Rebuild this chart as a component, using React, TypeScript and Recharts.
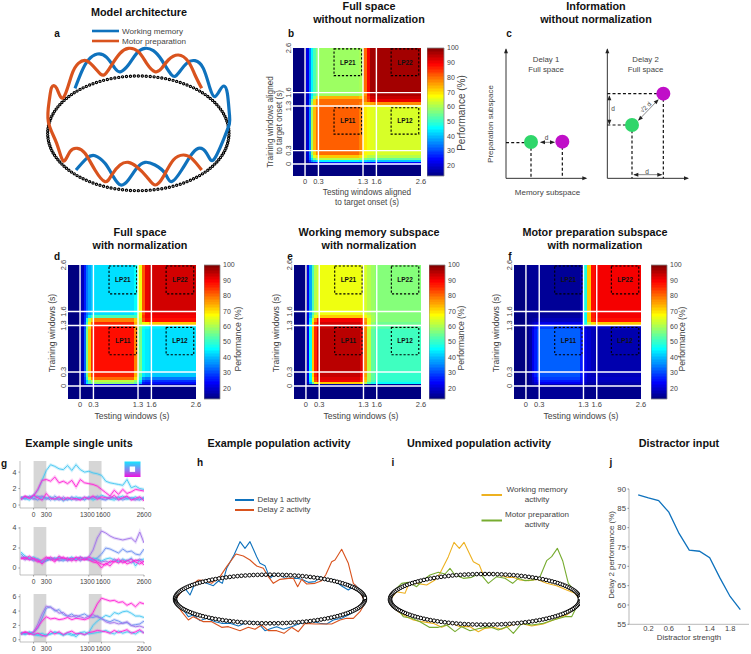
import React from "react";
import { ComposedChart, Line, Scatter, XAxis, YAxis, ReferenceArea, ReferenceLine } from "recharts";

const FONT = "'Liberation Sans', Arial, sans-serif";

// ---------- heatmap data ----------
const cellEdgesX = [-0.3, -0.03, 0.03, 0.08, 0.13, 0.18, 0.24, 0.32, 1.22, 1.3, 1.38, 1.46, 1.55, 2.6];
const cellEdgesY = [2.6, 1.6, 1.52, 1.46, 1.38, 1.32, 1.22, 0.32, 0.2, 0.13, 0.08, 0.04, -0.02, -0.3];
const timeTicks = [0, 0.3, 1.3, 1.6, 2.6];
const colorTicks = [20, 30, 40, 50, 60, 70, 80, 90, 100];
const colorSteps = [13,14,15,16,17,18,19,20,21,22,23,24,25,26,27,28,29,30,31,32,33,34,35,36,37,38,39,40,41,42,43,44,45,46,47,48,49,50,51,52,53,54,55,56,57,58,59,60,61,62,63,64,65,66,67,68,69,70,71,72,73,74,75,76,77,78,79,80,81,82,83,84,85,86,87,88,89,90,91,92,93,94,95,96,97,98,99];

const heatB = [
  [13,13,22,35,45,52,57,59,60,80,90,97,97],
  [13,13,20,33,44,52,57,59,60,76,88,95,96],
  [13,13,20,33,46,58,70,74,72,78,86,93,94],
  [13,13,20,35,55,71,78,80,80,78,84,91,91],
  [13,13,20,35,58,71,78,80,78,73,73,75,77],
  [13,13,20,35,58,73,79,81,78,69,66,65,65],
  [13,13,20,36,60,73,80,81,78,69,66,65,64],
  [13,13,20,36,58,71,78,80,76,68,66,65,64],
  [13,13,20,34,52,65,70,72,70,65,62,61,61],
  [13,13,20,33,44,55,60,61,59,57,55,54,54],
  [13,13,18,28,36,40,43,45,44,43,42,41,41],
  [13,13,15,18,20,22,24,26,26,25,24,24,24],
  [13,13,13,13,13,13,13,13,13,13,13,13,13],
];
const heatD = [
  [13,13,18,26,34,38,41,43,46,66,82,91,93],
  [13,13,18,26,34,38,41,43,46,66,82,90,91],
  [13,13,18,28,36,44,50,52,52,66,84,90,90],
  [13,13,18,28,48,62,72,78,72,62,82,88,88],
  [13,13,18,30,52,68,80,86,74,62,66,68,72],
  [13,13,18,30,54,70,84,88,76,56,48,46,44],
  [13,13,18,32,56,72,86,88,78,56,46,44,43],
  [13,13,18,32,54,72,84,86,74,54,44,42,41],
  [13,13,18,30,50,66,78,80,70,50,36,34,34],
  [13,13,18,28,42,54,60,62,58,44,30,28,28],
  [13,13,16,28,44,52,56,58,54,40,26,25,25],
  [13,13,14,16,18,20,22,22,22,20,18,18,18],
  [13,13,13,13,13,13,13,13,13,13,13,13,13],
];
const heatE = [
  [13,13,22,38,52,61,64,66,66,64,61,59,57],
  [13,13,22,38,52,61,64,66,65,64,61,59,57],
  [13,13,22,40,56,66,70,72,72,68,63,60,57],
  [13,13,22,44,64,78,88,90,88,76,66,60,57],
  [13,13,22,46,70,84,90,93,90,78,66,58,55],
  [13,13,22,46,72,86,92,94,92,78,64,56,53],
  [13,13,22,46,72,86,93,95,92,78,62,54,51],
  [13,13,22,46,70,86,92,94,90,76,60,54,50],
  [13,13,22,46,68,84,90,92,88,74,60,54,50],
  [13,13,22,44,66,82,88,90,86,72,58,52,49],
  [13,13,20,38,54,66,70,72,70,62,52,48,46],
  [13,13,14,14,15,15,15,16,16,15,15,15,15],
  [13,13,13,13,13,13,13,13,13,13,13,13,13],
];
const heatF = [
  [13,13,14,15,15,15,15,15,18,48,72,88,90],
  [13,13,14,15,15,15,15,15,18,46,72,87,90],
  [13,13,14,15,15,15,16,16,18,46,72,87,90],
  [13,13,14,15,16,17,18,18,20,46,72,86,88],
  [13,13,14,16,18,20,22,22,24,48,62,70,72],
  [13,13,14,16,20,25,28,29,24,20,19,19,19],
  [13,13,14,16,22,26,30,32,26,22,20,18,17],
  [13,13,14,16,22,26,30,31,26,22,19,18,18],
  [13,13,14,16,20,24,28,29,25,21,19,19,19],
  [13,13,14,15,18,22,25,26,24,20,18,18,18],
  [13,13,14,15,17,20,22,23,22,19,17,17,17],
  [13,13,13,14,15,16,17,17,17,16,15,15,15],
  [13,13,13,14,14,14,14,15,15,14,14,14,14],
];
const lpBoxes = [
  { name: "LP21", x1: 0.65, x2: 1.27, y1: 1.98, y2: 2.58 },
  { name: "LP22", x1: 1.93, x2: 2.55, y1: 1.98, y2: 2.58 },
  { name: "LP11", x1: 0.65, x2: 1.27, y1: 0.67, y2: 1.26 },
  { name: "LP12", x1: 1.93, x2: 2.55, y1: 0.67, y2: 1.26 },
];

// ---------- ring table: one quarter of a unit circle, reflected into the whole ring ----------
const ringQuarterCos = [1,.999,.996,.991,.985,.976,.966,.954,.94,.924,.906,.887,.866,.843,.819,.793,.766,.737,.707,.676,.643,.609,.574,.537,.5,.462,.423,.383,.342,.301,.259,.216,.174,.131,.087,.044];
const ringQuarterSin = [0,.044,.087,.131,.174,.216,.259,.301,.342,.383,.423,.462,.5,.537,.574,.609,.643,.676,.707,.737,.766,.793,.819,.843,.866,.887,.906,.924,.94,.954,.966,.976,.985,.991,.996,.999];
const neg = (a: number[]) => a.map((v) => -v);
const ringCos = [...ringQuarterCos, ...neg(ringQuarterSin), ...neg(ringQuarterCos), ...ringQuarterSin];
const ringSin = [...ringQuarterSin, ...ringQuarterCos, ...neg(ringQuarterSin), ...neg(ringQuarterCos)];

// ---------- panel a curves ----------
const archMemory = [[225,265],[245,215],[265,180],[292,162],[320,172],[345,205],[362,215],[385,195],[410,160],[435,145],[460,152],[485,180],[515,225],[535,220],[560,190],[585,182],[610,205],[630,265],[645,290],[660,270],[672,258],[682,280],[688,340],[688,372],[670,420],[640,480],[620,460],[595,445],[570,470],[545,510],[515,545],[495,520],[465,495],[435,487],[410,505],[385,540],[362,555],[340,530],[315,490],[285,467],[260,475],[228,510]];
const archMotor = [[605,265],[585,225],[565,185],[535,165],[505,180],[485,205],[465,215],[440,190],[415,155],[385,145],[360,160],[335,195],[312,225],[290,210],[260,182],[235,190],[215,225],[190,293],[170,265],[155,262],[148,300],[145,365],[170,430],[190,483],[210,455],[232,445],[255,460],[285,510],[315,545],[335,525],[360,495],[385,487],[410,500],[440,530],[465,555],[490,530],[520,480],[550,465],[575,475],[605,510]];

// ---------- panel h / i curves ----------
const popDelay1 = [[45,530],[60,510],[75,505],[90,525],[105,490],[125,482],[140,490],[160,497],[175,483],[187,490],[200,445],[222,405],[240,365],[255,385],[270,365],[290,410],[300,430],[315,437],[330,475],[345,462],[360,463],[375,475],[395,475],[410,475],[425,478],[445,487],[465,485],[480,470],[500,482],[520,478],[545,498],[565,510],[585,495],[600,510],[615,535],[610,550],[590,570],[565,585],[545,595],[520,600],[500,612],[480,610],[460,605],[435,605],[415,612],[395,620],[370,628],[350,620],[335,625],[315,632],[295,610],[280,605],[255,610],[235,618],[210,610],[185,610],[165,605],[140,595],[120,602],[100,585],[85,590],[70,570],[50,545],[45,530]];
const popDelay2 = [[45,540],[60,520],[80,500],[95,495],[115,480],[135,482],[155,490],[180,470],[200,440],[228,402],[250,408],[270,420],[290,438],[310,445],[325,470],[340,490],[360,478],[385,475],[400,475],[413,500],[425,478],[440,492],[465,490],[485,482],[497,465],[515,425],[525,420],[545,388],[565,430],[580,490],[595,505],[612,540],[612,555],[600,575],[580,595],[560,595],[540,600],[515,612],[490,612],[465,612],[435,610],[415,635],[395,622],[372,640],[350,632],[325,632],[305,615],[285,628],[265,622],[240,632],[205,620],[185,622],[155,605],[130,605],[100,590],[85,600],[65,575],[45,545],[45,540]];
const unmixMemory = [[30,540],[50,515],[75,520],[85,495],[110,490],[140,495],[165,480],[180,460],[205,410],[222,367],[238,385],[252,367],[280,425],[298,435],[310,465],[335,460],[360,465],[380,472],[400,472],[420,480],[445,482],[470,478],[500,490],[530,497],[560,510],[585,520],[600,540],[585,565],[560,585],[520,600],[490,612],[455,618],[420,610],[395,615],[365,628],[340,622],[315,625],[295,635],[270,620],[240,620],[215,610],[185,622],[160,610],[125,605],[100,600],[80,590],[55,575],[35,560],[30,540]];
const unmixMotor = [[30,540],[45,510],[65,490],[85,487],[110,500],[130,480],[150,465],[175,457],[195,462],[210,445],[225,465],[250,475],[275,472],[300,460],[325,490],[350,470],[375,475],[398,490],[415,475],[435,482],[460,480],[480,470],[500,422],[515,410],[532,385],[548,422],[565,490],[590,520],[600,540],[575,590],[555,590],[520,600],[490,610],[455,615],[425,610],[400,640],[380,620],[355,630],[330,620],[300,625],[270,632],[245,620],[225,635],[200,615],[175,622],[148,622],[120,605],[95,595],[70,590],[55,570],[35,550],[30,540]];

// ---------- panel g ----------
const unitTimes = [-300,-200,-100,0,100,200,300,400,500,600,700,800,900,1000,1100,1200,1300,1400,1500,1600,1700,1800,1900,2000,2100,2200,2300,2400,2500,2600];
const unitTicks = [0, 300, 1300, 1600, 2600];
const CYAN = "#45c6f2", MAG = "#ff22d6", PUR = "#a274ea", BLU = "#6d90f0";
const unitsTop = [
  { c: CYAN, v: [.9,1,.9,1.2,1.8,3,4.2,4.9,4.7,4.4,4.3,4.8,4.2,4.9,4.3,4,4.1,3.9,3.8,3.6,2.9,2.7,2.6,2.5,2.4,3.1,2.1,2.3,2,1.9] },
  { c: MAG, v: [.8,1,.9,1.1,1.9,3,3.1,2.9,3.4,2.7,2.9,2.6,3,2.2,3.1,2.7,2.6,2.5,2.3,1.9,1.5,1.1,1.8,1.3,1.9,1.4,1.6,1.9,1.8,1.7] },
  { c: CYAN, v: [.9,.8,.6,1,1.1,.7,.8,1,.6,.9,.5,.8,.6,1,.8,.7,.9,.6,.8,1.2,1,.7,.6,.9,1.1,.7,.8,1,.7,.8] },
  { c: PUR, v: [.6,1,.9,.7,1,1.1,.7,.9,.8,.6,1,.7,.9,.6,.7,1,.7,1,.9,.8,.7,1,.9,.6,.8,1,.7,.6,.9,.7] },
  { c: BLU, v: [1,.7,1.1,.8,.6,1,.9,.6,1.1,.7,.8,.6,1,.7,.9,.6,1,.8,1.1,.7,.6,.9,.8,1,.6,.8,.9,.7,.6,1] },
  { c: MAG, v: [.7,1.1,.8,1.2,.9,.6,1.4,.8,.7,1,.6,.9,.7,.8,.6,.9,.8,1.1,.7,1,.9,.8,1.2,.7,.9,1.1,.6,.8,1,.5] },
];
const unitsMid = [
  { c: PUR, v: [1.1,1,.9,.9,.7,.6,.8,.9,.8,1,.9,.7,.9,1,.8,1,1.1,1.8,3,3.7,3.5,3.2,3,2.9,2.8,2.9,3,2.6,3.6,2.5] },
  { c: BLU, v: [1.4,1,.9,.8,.8,.5,.7,.9,1,.8,.7,1,.8,.9,1.1,.9,.9,.8,1,1.4,2,1.9,1.7,1.5,1.9,1.6,1.7,1.4,1.3,1.9] },
  { c: CYAN, v: [1.6,1.2,1,1.1,.9,.7,.8,1,.9,1.1,.8,.9,1.1,.8,1,.9,.8,1,.9,.7,.9,1,.8,.6,.9,.7,1,.2,.8,.9] },
  { c: PUR, v: [1.1,.8,1,.7,.9,.6,1,.8,1,.7,1,.8,.9,1,.7,1,.9,.7,.8,.6,.7,.5,.9,.7,.6,.8,.5,.7,.9,.6] },
  { c: MAG, v: [1,.9,1.2,.9,.6,.8,1.1,.9,.6,1.2,.9,1,.7,1.1,.9,.8,1.1,.9,.6,.4,.3,.7,.6,.9,.5,.7,.9,.6,.4,.7] },
  { c: MAG, v: [.9,1.1,.8,1,.8,.4,.9,1.1,.8,.9,1.1,.8,1,.7,1.1,.9,.8,.6,.5,0,.5,.2,.7,.5,.8,.4,.6,.8,.7,.3] },
];
const unitsLow = [
  { c: CYAN, v: [.8,.9,1,.7,.6,.5,.7,.8,1,.9,.7,.8,.6,.8,.9,.7,1,2,2.6,3,3.4,3.2,3.8,3.6,3.9,4,3.7,3.3,3.3,3.1] },
  { c: BLU, v: [1,.8,.9,1,1.6,3,4.4,4.6,4,4.2,3.5,3.3,3.6,3.1,3.4,3.6,3.2,3.1,3.3,2.9,2.7,2.5,2.8,2.6,2.3,2.4,2,2.1,2.2,2.6] },
  { c: PUR, v: [.7,1,.8,1.1,2.2,3.6,4.7,4.5,4.2,3.7,3.8,3.3,3.2,3.4,3.2,3,3.3,3.5,3.2,3,2.5,2.3,2.4,2.2,2.3,2.5,2,1.8,1.9,1.7] },
  { c: MAG, v: [.9,1,.8,1,1.8,2.6,3.2,2.9,3,2.8,2.9,3.1,2.8,3,2.9,2.8,3,3.8,5,5.8,5.6,5.4,5.5,5.2,5.3,4.8,5.1,4.6,5.2,5] },
  { c: CYAN, v: [1,.7,1.1,.8,.7,.9,.6,.8,1.1,.9,.6,1,.8,.4,1,1.1,.8,.9,1,1.1,1.3,1,.8,1.2,.9,1.1,1,.8,1.2,1] },
  { c: MAG, v: [.8,1.1,.9,.7,.9,.6,.5,1.2,.8,1.1,.7,1,1.2,.8,.9,.7,1,1.1,1.3,1.2,1.1,.9,1.3,1,1.2,1.4,.9,1.1,1.4,.9] },
];

// ---------- panel j ----------
const distractorStrength = [0, 0.2, 0.4, 0.6, 0.8, 1, 1.2, 1.4, 1.6, 1.8, 2];
const delay2Performance = [88.5, 87.7, 87, 84, 78.5, 74.2, 73.9, 72.2, 67, 62.2, 58.8];
const distractorTicks = [0.2, 0.6, 1, 1.4, 1.8];
const performanceTicks = [55, 60, 65, 70, 75, 80, 85, 90];

// ---------- panel c ----------
const schemeGreen = [{ x: 93, y: 426 }, { x: 396, y: 375 }];
const schemeMagenta = [{ x: 187, y: 425 }, { x: 490, y: 281 }];
const schemeAxes = [
  [[18,535],[18,148]], [[18,535],[258,535]], [[322,535],[322,148]], [[322,535],[563,535]],
];
const schemeDashed = [
  [[18,428],[93,428]], [[93,428],[93,535]], [[187,425],[187,535]],
  [[322,375],[396,375]], [[322,281],[490,281]], [[396,375],[396,535]], [[490,281],[490,535]],
];
const schemeArrows = [
  [[122,427],[163,427]], [[328,288],[328,372]], [[416,360],[474,300]], [[402,524],[485,524]],
];

const MEM_BLUE = "#0f72bd", MOT_RED = "#d9531e", WM_YEL = "#edb120", MP_GRN = "#77ac30";

// ---------- helpers ----------
function jet(v: number) {
  const t = (v - 13) / 87;
  const f = (k: number) => Math.round(255 * Math.max(0, Math.min(1, 1.5 - Math.abs(4 * t - k))));
  return `rgb(${f(3)},${f(2)},${f(1)})`;
}
const toPts = (a: number[][]) => a.map(([x, y]) => ({ x, y }));
const crisp = (p: any) => <rect x={p.x} y={p.y} width={p.width} height={p.height} fill={p.fill} shapeRendering="crispEdges" />;
const box = (l: number, t: number): React.CSSProperties => ({ position: "absolute", left: l, top: t });
const ringPoints = (cx: number, cy: number, a: number, b: number) => ringCos.map((c, i) => ({ x: cx + a * c, y: cy + b * ringSin[i] }));

function Heat({ l, r, t, b, loX, loY, m }: any) {
  const yw = 16, xh = 16, mr = 10, mt = 8;
  const rotTick = (p: any) => (
    <text transform={`rotate(-90 ${p.x + 6} ${p.y})`} x={p.x + 6} y={p.y} textAnchor="middle" fontSize={7.5} fill="#444" fontFamily={FONT}>{p.payload.value}</text>
  );
  const rows = m.flatMap((row: number[], ri: number) => row.map((v, ci) => ({
    key: `${ri}-${ci}`, v,
    x1: Math.max(cellEdgesX[ci], loX), x2: cellEdgesX[ci + 1],
    y1: cellEdgesY[ri], y2: Math.max(cellEdgesY[ri + 1], loY),
  })));
  return (
    <div style={box(l - yw, t - mt)}>
      <ComposedChart width={r - l + yw + mr} height={b - t + xh + mt} margin={{ top: mt, right: mr, bottom: 0, left: 0 }}>
        <XAxis type="number" dataKey="x" domain={[loX, 2.6]} ticks={timeTicks} interval={0} allowDataOverflow height={xh} axisLine={false} tickLine={false} tickSize={0} tickMargin={3} tick={{ fontSize: 7.5, fill: "#444", fontFamily: FONT }} />
        <YAxis type="number" dataKey="y" domain={[loY, 2.6]} ticks={timeTicks} interval={0} allowDataOverflow width={yw} axisLine={false} tickLine={false} tick={rotTick} />
        {rows.map((c: any) => (
          <ReferenceArea key={c.key} x1={c.x1} x2={c.x2} y1={c.y1} y2={c.y2} fill={jet(c.v)} fillOpacity={1} stroke="none" shape={crisp} />
        ))}
        {timeTicks.slice(0, 4).map((v) => <ReferenceLine key={"vx" + v} x={v} stroke="#fff" strokeWidth={1.4} />)}
        {timeTicks.slice(0, 4).map((v) => <ReferenceLine key={"hy" + v} y={v} stroke="#fff" strokeWidth={1.4} />)}
        {lpBoxes.map((q) => (
          <ReferenceArea key={q.name} x1={q.x1} x2={q.x2} y1={q.y1} y2={q.y2} fill="none" stroke="#000" strokeWidth={1.1} strokeDasharray="2.2 1.8"
            label={{ value: q.name, position: "center", fontSize: 6.5, fontWeight: 700, fill: "#111", fontFamily: FONT }} />
        ))}
      </ComposedChart>
    </div>
  );
}

function ColorBar({ l, r, t, b }: any) {
  const mt = 6, mb = 6, yw = 20;
  return (
    <div style={box(l, t - mt)}>
      <ComposedChart width={r - l + yw} height={b - t + mt + mb} margin={{ top: mt, right: 0, bottom: mb, left: 0 }}>
        <XAxis hide type="number" dataKey="x" domain={[0, 1]} allowDataOverflow />
        <YAxis orientation="right" type="number" dataKey="y" domain={[13, 100]} ticks={colorTicks} interval={0} allowDataOverflow width={yw} axisLine={false} tickLine={false} tickSize={0} tickMargin={3} tick={{ fontSize: 7, fill: "#444", fontFamily: FONT }} />
        {colorSteps.map((v) => <ReferenceArea key={v} x1={0} x2={1} y1={v} y2={v + 1} fill={jet(v + 0.5)} fillOpacity={1} stroke="none" shape={crisp} />)}
        <ReferenceArea x1={0} x2={1} y1={13} y2={100} fill="none" stroke="#888" strokeWidth={0.8} />
      </ComposedChart>
    </div>
  );
}

function Units({ t, b, series, lo, hi, ticks }: any) {
  const data = unitTimes.map((tm, i) => {
    const row: any = { t: tm };
    series.forEach((s: any, k: number) => { row["s" + k] = s.v[i]; });
    return row;
  });
  const yw = 20, mr = 12, xh = 12, mt = 4;
  const xTick = (p: any) => {
    const v = p.payload.value;
    const dx = v === 1300 ? -1.5 : v === 1600 ? 1.5 : 0;
    return <text x={p.x + dx} y={p.y + 5} textAnchor="middle" fontSize={6.6} fill="#444" fontFamily={FONT}>{v}</text>;
  };
  return (
    <div style={box(0, t - mt)}>
      <ComposedChart width={yw + 124 + mr} height={b - t + xh + mt} data={data} margin={{ top: mt, right: mr, bottom: 0, left: 0 }}>
        <XAxis type="number" dataKey="t" domain={[-320, 2600]} ticks={unitTicks} interval={0} allowDataOverflow height={xh} axisLine={{ stroke: "#999", strokeWidth: 0.6 }} tickLine={{ stroke: "#999" }} tickSize={1.5} tickMargin={2} tick={xTick} />
        <YAxis type="number" domain={[lo, hi]} ticks={ticks} interval={0} allowDataOverflow width={yw} axisLine={{ stroke: "#999", strokeWidth: 0.6 }} tickLine={{ stroke: "#999" }} tickSize={1.5} tickMargin={2} tick={{ fontSize: 7, fill: "#444", fontFamily: FONT }} />
        <ReferenceArea x1={0} x2={300} y1={lo} y2={hi} fill="#d6d6d6" fillOpacity={1} stroke="none" />
        <ReferenceArea x1={1300} x2={1600} y1={lo} y2={hi} fill="#d6d6d6" fillOpacity={1} stroke="none" />
        {series.map((s: any, k: number) => <Line key={"b" + k} dataKey={"s" + k} stroke={s.c} strokeOpacity={0.25} strokeWidth={3} dot={false} activeDot={false} isAnimationActive={false} />)}
        {series.map((s: any, k: number) => <Line key={"l" + k} dataKey={"s" + k} stroke={s.c} strokeWidth={0.9} dot={false} activeDot={false} isAnimationActive={false} />)}
      </ComposedChart>
    </div>
  );
}

const ringDot = (r: number, sw: number) => (p: any) => <circle cx={p.cx} cy={p.cy} r={r} fill="#fff" stroke="#000" strokeWidth={sw} />;

function RingChart({ l, t, w, h, ring, curves, lw, type, ringR, ringW, ringOnTop }: any) {
  const ringEl = <Scatter key="ring" data={ring} shape={ringDot(ringR, ringW)} isAnimationActive={false} zIndex={ringOnTop ? 700 : 300} />;
  return (
    <div style={box(l, t)}>
      <ComposedChart width={w} height={h} margin={{ top: 0, right: 0, bottom: 0, left: 0 }}>
        <XAxis hide type="number" dataKey="x" domain={[0, w * 3]} allowDataOverflow />
        <YAxis hide type="number" dataKey="y" domain={[0, h * 3]} reversed allowDataOverflow />
        {!ringOnTop && ringEl}
        {curves.map((c: any, i: number) => (
          <Line key={i} data={toPts(c.pts)} dataKey="y" type={type} stroke={c.color} strokeWidth={lw} strokeLinejoin="round" dot={false} activeDot={false} isAnimationActive={false} zIndex={500} />
        ))}
        {ringOnTop && ringEl}
      </ComposedChart>
    </div>
  );
}

const tri = (deg: number) => (p: any) => (
  <polygon points="0,0 -5,-2 -5,2" fill="#222" transform={`translate(${p.cx} ${p.cy}) rotate(${deg})`} />
);

function Scheme() {
  return (
    <div style={box(500, 0)}>
      <ComposedChart width={251} height={210} margin={{ top: 0, right: 0, bottom: 0, left: 0 }}>
        <XAxis hide type="number" dataKey="x" domain={[0, 753]} allowDataOverflow />
        <YAxis hide type="number" dataKey="y" domain={[0, 630]} reversed allowDataOverflow />
        {schemeAxes.map((s, i) => <ReferenceLine key={"a" + i} segment={toPts(s)} stroke="#333" strokeWidth={1} />)}
        {schemeDashed.map((s, i) => <ReferenceLine key={"d" + i} segment={toPts(s)} stroke="#111" strokeWidth={1.2} strokeDasharray="3 2.2" />)}
        {schemeArrows.map((s, i) => <ReferenceLine key={"r" + i} segment={toPts(s)} stroke="#555" strokeWidth={0.7} />)}
        <Scatter data={[{ x: 18, y: 145 }, { x: 322, y: 145 }, { x: 328, y: 286 }]} shape={tri(-90)} isAnimationActive={false} />
        <Scatter data={[{ x: 262, y: 535 }, { x: 567, y: 535 }, { x: 165, y: 427 }, { x: 487, y: 524 }]} shape={tri(0)} isAnimationActive={false} />
        <Scatter data={[{ x: 476, y: 298 }]} shape={tri(-45)} isAnimationActive={false} />
        <Scatter data={[{ x: 414, y: 362 }]} shape={tri(135)} isAnimationActive={false} />
        <Scatter data={[{ x: 120, y: 427 }, { x: 400, y: 524 }]} shape={tri(180)} isAnimationActive={false} />
        <Scatter data={[{ x: 328, y: 374 }]} shape={tri(90)} isAnimationActive={false} />
        <Scatter data={schemeGreen} shape={(p: any) => <circle cx={p.cx} cy={p.cy} r={7} fill="#2fd66a" />} isAnimationActive={false} zIndex={800} />
        <Scatter data={schemeMagenta} shape={(p: any) => <circle cx={p.cx} cy={p.cy} r={7} fill="#c00fc8" />} isAnimationActive={false} zIndex={800} />
      </ComposedChart>
    </div>
  );
}

function Distractor() {
  const data = distractorStrength.map((x, i) => ({ x, y: delay2Performance[i] }));
  const yw = 18, mt = 6, xh = 10;
  return (
    <div style={box(629.3 - yw, 489 - mt)}>
      <ComposedChart width={yw + 120} height={135.3 + xh + mt} data={data} margin={{ top: mt, right: 0, bottom: 0, left: 0 }}>
        <XAxis type="number" dataKey="x" domain={[-0.18, 2.17]} ticks={distractorTicks} interval={0} allowDataOverflow height={xh} axisLine={{ stroke: "#888", strokeWidth: 0.6 }} tickLine={false} tickSize={0} tickMargin={1} tick={{ fontSize: 7.5, fill: "#444", fontFamily: FONT }} />
        <YAxis type="number" dataKey="y" domain={[55, 90]} ticks={performanceTicks} interval={0} allowDataOverflow width={yw} axisLine={{ stroke: "#888", strokeWidth: 0.6 }} tickLine={{ stroke: "#888" }} tickSize={1.5} tickMargin={1.5} tick={{ fontSize: 7.8, fill: "#444", fontFamily: FONT }} />
        <Line dataKey="y" stroke={MEM_BLUE} strokeWidth={1.3} dot={false} activeDot={false} isAnimationActive={false} />
      </ComposedChart>
    </div>
  );
}

const T = ({ x, y, s, size = 8, bold, anchor = "middle", rot, fill = "#444" }: any) => (
  <text x={x} y={y} fontSize={size} fontWeight={bold ? 700 : 400} textAnchor={anchor} fill={fill} fontFamily={FONT} dominantBaseline="central"
    transform={rot ? `rotate(${rot} ${x} ${y})` : undefined}>{s}</text>
);
const Title = ({ x, y, s }: any) => <T x={x} y={y} s={s} size={10.8} bold fill="#111" />;
const Letter = ({ x, y, s }: any) => <T x={x} y={y} s={s} size={10} bold fill="#111" />;

function Overlay() {
  return (
    <svg width={751} height={654} style={{ position: "absolute", left: 0, top: 0, pointerEvents: "none" }}>
      <Title x={139} y={12} s="Model architecture" />
      <Title x={369} y={6} s="Full space" />
      <Title x={369} y={18.5} s="without normalization" />
      <Title x={596} y={5.5} s="Information" />
      <Title x={596} y={18.5} s="without normalization" />
      <Title x={140} y={232} s="Full space" />
      <Title x={140} y={245} s="with normalization" />
      <Title x={369} y={232} s="Working memory subspace" />
      <Title x={369} y={245} s="with normalization" />
      <Title x={595} y={232} s="Motor preparation subspace" />
      <Title x={595} y={245} s="with normalization" />
      <Title x={79} y={443} s="Example single units" />
      <Title x={279} y={443} s="Example population activity" />
      <Title x={479} y={443} s="Unmixed population activity" />
      <Title x={679} y={443} s="Distractor input" />

      <Letter x={57} y={33} s="a" /><Letter x={291} y={33} s="b" /><Letter x={509} y={33} s="c" />
      <Letter x={57} y={256} s="d" /><Letter x={290} y={256} s="e" /><Letter x={510} y={256} s="f" />
      <Letter x={4} y={463} s="g" /><Letter x={200} y={462} s="h" /><Letter x={393} y={462} s="i" /><Letter x={611} y={462} s="j" />

      {/* panel a legend */}
      <line x1={92} x2={119} y1={31} y2={31} stroke={MEM_BLUE} strokeWidth={2.6} />
      <line x1={92} x2={119} y1={41} y2={41} stroke={MOT_RED} strokeWidth={2.6} />
      <T x={122} y={31} s="Working memory" anchor="start" size={8.1} />
      <T x={122} y={41} s="Motor preparation" anchor="start" size={8.1} />

      {/* panel b labels */}
      <T x={367} y={192} s="Testing windows aligned" size={8.2} />
      <T x={367} y={202} s="to target onset (s)" size={8.2} />
      <T x={270} y={122} s="Training windows aligned" size={8.2} rot={-90} />
      <T x={279.5} y={122} s="to target onset (s)" size={8.2} rot={-90} />

      <T x={461} y={113} s="Performance (%)" size={10} rot={-90} />
      {[{ x: 238, y: 339 }, { x: 461, y: 338 }, { x: 682, y: 339 }].map((p, i) => (
        <T key={i} x={p.x} y={p.y} s="Performance (%)" size={8.6} rot={-90} />
      ))}
      {[52, 276, 496].map((x) => <T key={x} x={x} y={333} s="Training windows (s)" size={8.6} rot={-90} />)}
      {[132, 361, 581].map((x) => <T key={x} x={x} y={416} s="Testing windows (s)" size={8.6} />)}

      {/* panel c labels */}
      <T x={546} y={59.5} s="Delay 1" size={7.8} />
      <T x={546} y={69} s="Full space" size={7.8} />
      <T x={645.5} y={59.5} s="Delay 2" size={7.8} />
      <T x={645.5} y={69} s="Full space" size={7.8} />
      <T x={547.5} y={192} s="Memory subspace" size={8} />
      <T x={490.5} y={124} s="Preparation subspace" size={8} rot={-90} />
      <T x={546.5} y={137.5} s="d" size={6.5} />
      <T x={613} y={108.5} s="d" size={6.5} />
      <T x={645.5} y={107} s="√2 d" size={6.5} rot={-45} />
      <T x={647} y={171} s="d" size={6.5} />

      {/* inset of panel g */}
      <defs>
        <linearGradient id="inset" x1="0" y1="0" x2="0" y2="1">
          <stop offset="0" stopColor="#15e6ff" />
          <stop offset="0.5" stopColor="#7d8cf0" />
          <stop offset="1" stopColor="#f010e0" />
        </linearGradient>
      </defs>
      <rect x={124.5} y={461.5} width={16} height={15.5} fill="url(#inset)" />
      <rect x={129.7} y={466.5} width={5.4} height={5.4} fill="#fff" />

      {/* panel h legend */}
      <line x1={235} x2={254} y1={500} y2={500} stroke={MEM_BLUE} strokeWidth={2} />
      <line x1={235} x2={254} y1={510} y2={510} stroke={MOT_RED} strokeWidth={2} />
      <T x={257.5} y={499} s="Delay 1 activity" anchor="start" size={7.9} />
      <T x={257.5} y={509.5} s="Delay 2 activity" anchor="start" size={7.9} />

      {/* panel i legend */}
      <line x1={481.5} x2={502} y1={495} y2={495} stroke={WM_YEL} strokeWidth={2} />
      <line x1={481.5} x2={502} y1={520.5} y2={520.5} stroke={MP_GRN} strokeWidth={2} />
      <T x={537} y={489.5} s="Working memory" size={8.1} />
      <T x={537} y={499.5} s="activity" size={8.1} />
      <T x={537} y={514.5} s="Motor preparation" size={8.1} />
      <T x={537} y={524.5} s="activity" size={8.1} />

      {/* panel j labels */}
      <T x={689} y={637} s="Distractor strength" size={7.9} />
      <T x={611.5} y={555} s="Delay 2 performance (%)" size={7.9} rot={-90} />
    </svg>
  );
}

export default function App() {
  return (
    <div style={{ position: "absolute", left: 0, top: 0, width: 751, height: 654, background: "#fff", overflow: "hidden", fontFamily: FONT }}>
      <RingChart l={0} t={0} w={250} h={210} type="natural" lw={3.2} ringR={1.1} ringW={1.2}
        ring={ringPoints(415, 400, 272, 172)}
        curves={[{ pts: archMemory, color: MEM_BLUE }, { pts: archMotor, color: MOT_RED }]} />
      <RingChart l={160} t={420} w={220} h={234} type="linear" lw={1.1} ringR={1.8} ringW={1} ringOnTop
        ring={ringPoints(330, 537, 285, 73)}
        curves={[{ pts: popDelay1, color: MEM_BLUE }, { pts: popDelay2, color: MOT_RED }]} />
      <RingChart l={380} t={420} w={200} h={234} type="linear" lw={1.1} ringR={1.8} ringW={1} ringOnTop
        ring={ringPoints(315, 538, 285, 76)}
        curves={[{ pts: unmixMemory, color: WM_YEL }, { pts: unmixMotor, color: MP_GRN }]} />

      <Heat l={293} r={421} t={48} b={176} loX={-0.27} loY={-0.27} m={heatB} />
      <ColorBar l={427} r={444} t={48} b={176} />
      <Heat l={68} r={196} t={265} b={399} loX={-0.27} loY={-0.28} m={heatD} />
      <ColorBar l={204} r={220} t={265} b={399} />
      <Heat l={294} r={421} t={265} b={399} loX={-0.27} loY={-0.28} m={heatE} />
      <ColorBar l={429} r={445} t={265} b={399} />
      <Heat l={514} r={641} t={265} b={399} loX={-0.27} loY={-0.28} m={heatF} />
      <ColorBar l={651} r={667} t={265} b={399} />

      <Scheme />

      <Units t={461} b={508} series={unitsTop} lo={-0.36} hi={5.35} ticks={[0, 2, 4]} />
      <Units t={527} b={575} series={unitsMid} lo={-0.7} hi={4.1} ticks={[0, 2, 4]} />
      <Units t={594} b={642} series={unitsLow} lo={-0.32} hi={6.38} ticks={[0, 2, 4, 6]} />

      <Distractor />
      <Overlay />
    </div>
  );
}
